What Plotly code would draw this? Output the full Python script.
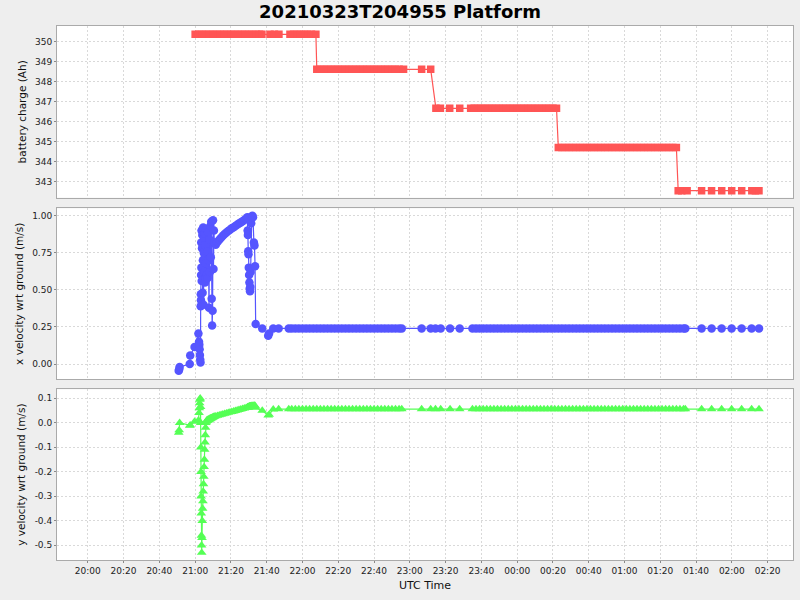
import plotly.graph_objects as go
from plotly.subplots import make_subplots

TITLE = "20210323T204955 Platform"
X_TITLE = "UTC Time"
Y1_TITLE = "battery charge (Ah)"
Y2_TITLE = "x velocity wrt ground (m/s)"
Y3_TITLE = "y velocity wrt ground (m/s)"

# ---------------- battery charge (Ah), by time of day (UTC) ----------------
batt_l1_time = ["21:00", "21:02", "21:04", "21:06", "21:08", "21:10", "21:12", "21:14",
                "21:16", "21:18", "21:20", "21:22", "21:24", "21:26", "21:28", "21:30",
                "21:32", "21:34", "21:36", "21:37:20", "21:41:50", "21:44:20", "21:46:50", "21:53",
                "21:55", "21:57", "21:59", "22:01", "22:03", "22:05", "22:07:30"]
batt_l1_ah = [350.37, 350.37, 350.37, 350.37, 350.37, 350.37, 350.37, 350.37,
              350.37, 350.37, 350.37, 350.37, 350.37, 350.37, 350.37, 350.37,
              350.37, 350.37, 350.37, 350.37, 350.37, 350.37, 350.37, 350.37,
              350.37, 350.37, 350.37, 350.37, 350.37, 350.37, 350.37]

batt_l2_time = ["22:08", "22:10", "22:12", "22:14", "22:16", "22:18", "22:20", "22:22",
                "22:24", "22:26", "22:28", "22:30", "22:32", "22:34", "22:36", "22:38",
                "22:40", "22:42", "22:44", "22:46", "22:48", "22:50", "22:52", "22:54",
                "22:56:30", "23:06:36", "23:11:40"]
batt_l2_ah = [348.62, 348.62, 348.62, 348.62, 348.62, 348.62, 348.62, 348.62,
              348.62, 348.62, 348.62, 348.62, 348.62, 348.62, 348.62, 348.62,
              348.62, 348.62, 348.62, 348.62, 348.62, 348.62, 348.62, 348.62,
              348.62, 348.62, 348.62]

batt_l3_time = ["23:14:35", "23:17:05", "23:22:18", "23:27:54", "23:34", "23:36", "23:38", "23:40",
                "23:42", "23:44", "23:46", "23:48", "23:50", "23:52", "23:54", "23:56",
                "23:58", "00:00", "00:02", "00:04", "00:06", "00:08", "00:10", "00:12",
                "00:14", "00:16", "00:18", "00:20", "00:22"]
batt_l3_ah = [346.67, 346.67, 346.67, 346.67, 346.67, 346.67, 346.67, 346.67,
              346.67, 346.67, 346.67, 346.67, 346.67, 346.67, 346.67, 346.67,
              346.67, 346.67, 346.67, 346.67, 346.67, 346.67, 346.67, 346.67,
              346.67, 346.67, 346.67, 346.67, 346.67]

batt_l4_time = ["00:23", "00:25", "00:27", "00:29", "00:31", "00:33", "00:35", "00:37",
                "00:39", "00:41", "00:43", "00:45", "00:47", "00:49", "00:51", "00:53",
                "00:55", "00:57", "00:59", "01:01", "01:03", "01:05", "01:07", "01:09",
                "01:11", "01:13", "01:15", "01:17", "01:19", "01:21", "01:23", "01:25",
                "01:27", "01:29"]
batt_l4_ah = [344.71, 344.71, 344.71, 344.71, 344.71, 344.71, 344.71, 344.71,
              344.71, 344.71, 344.71, 344.71, 344.71, 344.71, 344.71, 344.71,
              344.71, 344.71, 344.71, 344.71, 344.71, 344.71, 344.71, 344.71,
              344.71, 344.71, 344.71, 344.71, 344.71, 344.71, 344.71, 344.71,
              344.71, 344.71]

batt_l5_time = ["01:30", "01:32", "01:35", "01:43:05", "01:48:40", "01:54:20", "01:59:55",
                "02:05:30", "02:11:10", "02:13:10", "02:15:10"]
batt_l5_ah = [342.55, 342.55, 342.55, 342.55, 342.55, 342.55, 342.55,
              342.55, 342.55, 342.55, 342.55]

# ---------------- velocities wrt ground (m/s) ----------------
drift_time = ["20:50:50", "20:51:05", "20:51:20", "20:57:00", "20:57:15", "20:59:40", "21:01:50"]
drift_x = [-0.045, -0.035, -0.020, 0.000, 0.058, 0.115, 0.205]
drift_y = [-0.040, -0.030, 0.000, -0.012, -0.010, 0.005, 0.010]

spin_time = ["21:02:10", "21:02:20", "21:02:30", "21:02:40", "21:02:50", "21:03:00", "21:03:05",
             "21:03:10", "21:03:15", "21:03:20", "21:03:25", "21:03:30", "21:03:35", "21:03:40",
             "21:03:50", "21:04:00", "21:04:10", "21:04:20", "21:04:30", "21:04:40", "21:04:50",
             "21:05:00", "21:05:10", "21:05:20", "21:05:30", "21:05:40", "21:05:50", "21:06:00",
             "21:06:15", "21:06:30", "21:06:45", "21:07:00", "21:07:15", "21:07:30", "21:07:45",
             "21:08:00", "21:08:15", "21:08:30", "21:08:45", "21:09:00", "21:09:15", "21:09:30",
             "21:09:45", "21:10:00", "21:10:15", "21:10:30", "21:10:45"]
spin_x = [0.150, 0.130, 0.100, 0.060, 0.030, 0.010, 0.390,
          0.470, 0.430, 0.600, 0.820, 0.650, 0.900, 0.560,
          0.780, 0.870, 0.480, 0.700, 0.920, 0.400, 0.750,
          0.850, 0.620, 0.880, 0.550, 0.800, 0.580, 0.680,
          0.910, 0.600, 0.760, 0.580, 0.890, 0.700, 0.380,
          0.840, 0.620, 0.930, 0.720, 0.960, 0.440, 0.260,
          0.360, 0.970, 0.640, 0.900, 0.820]
spin_y = [0.040, 0.060, 0.080, 0.095, 0.100, 0.065, 0.000,
          -0.100, -0.200, -0.300, -0.370, -0.460, -0.500, -0.530,
          -0.470, -0.400, -0.350, -0.320, -0.280, -0.250, -0.220,
          -0.180, -0.150, -0.110, -0.080, -0.050, -0.020, 0.000,
          0.005, 0.010, 0.008, 0.012, 0.010, 0.014, 0.012,
          0.016, 0.015, 0.018, 0.017, 0.020, 0.019, 0.021,
          0.022, 0.023, 0.024, 0.025, 0.026]

ramp_time = ["21:11:30", "21:12:30", "21:13:30", "21:14:30", "21:15:30", "21:16:30",
             "21:17:30", "21:18:30", "21:19:30", "21:20:30", "21:21:30", "21:22:30",
             "21:23:30", "21:24:30", "21:25:30", "21:26:30", "21:27:30", "21:28:30"]
ramp_x = [0.805, 0.822, 0.838, 0.852, 0.865, 0.876,
          0.887, 0.897, 0.906, 0.915, 0.923, 0.931,
          0.939, 0.947, 0.955, 0.963, 0.971, 0.979]
ramp_y = [0.027, 0.029, 0.031, 0.033, 0.035, 0.037,
          0.039, 0.041, 0.043, 0.045, 0.047, 0.049,
          0.051, 0.053, 0.055, 0.057, 0.059, 0.061]

turn_time = ["21:29:10", "21:29:20", "21:29:30", "21:29:40", "21:29:50",
             "21:30:00", "21:30:10", "21:30:20", "21:30:30", "21:30:40",
             "21:30:50", "21:31:00", "21:31:20", "21:31:40", "21:32:00",
             "21:32:20", "21:32:50", "21:33:10", "21:33:30", "21:33:50"]
turn_x = [0.990, 0.900, 0.870, 0.760, 0.740,
          0.650, 0.600, 0.550, 0.510, 0.490,
          0.520, 0.620, 0.950, 0.995, 1.000,
          0.990, 0.820, 0.800, 0.660, 0.270]
turn_y = [0.062, 0.063, 0.064, 0.063, 0.065,
          0.064, 0.066, 0.065, 0.067, 0.066,
          0.068, 0.067, 0.068, 0.069, 0.068,
          0.070, 0.069, 0.070, 0.069, 0.062]

settle_time = ["21:37:30", "21:40:50", "21:41:20", "21:43:40", "21:46:40", "21:52:20"]
settle_x = [0.240, 0.190, 0.205, 0.240, 0.240, 0.240]
settle_y = [0.050, 0.030, 0.033, 0.055, 0.056, 0.056]

cruise1_time = ["21:54", "21:56", "21:58", "22:00", "22:02", "22:04", "22:06", "22:08",
                "22:10", "22:12", "22:14", "22:16", "22:18", "22:20", "22:22", "22:24",
                "22:26", "22:28", "22:30", "22:32", "22:34", "22:36", "22:38", "22:40",
                "22:42", "22:44", "22:46", "22:48", "22:50", "22:52", "22:54", "22:55:30"]
cruise1_x = [0.24, 0.24, 0.24, 0.24, 0.24, 0.24, 0.24, 0.24,
             0.24, 0.24, 0.24, 0.24, 0.24, 0.24, 0.24, 0.24,
             0.24, 0.24, 0.24, 0.24, 0.24, 0.24, 0.24, 0.24,
             0.24, 0.24, 0.24, 0.24, 0.24, 0.24, 0.24, 0.24]
cruise1_y = [0.056, 0.056, 0.056, 0.056, 0.056, 0.056, 0.056, 0.056,
             0.056, 0.056, 0.056, 0.056, 0.056, 0.056, 0.056, 0.056,
             0.056, 0.056, 0.056, 0.056, 0.056, 0.056, 0.056, 0.056,
             0.056, 0.056, 0.056, 0.056, 0.056, 0.056, 0.056, 0.056]

gap_time = ["23:06:36", "23:11:40", "23:14:20", "23:17:15", "23:22:30", "23:27:52"]
gap_x = [0.24, 0.24, 0.24, 0.24, 0.24, 0.24]
gap_y = [0.056, 0.056, 0.056, 0.056, 0.056, 0.056]

cruise2_time = ["23:35", "23:37", "23:39", "23:41", "23:43", "23:45", "23:47", "23:49",
                "23:51", "23:53", "23:55", "23:57", "23:59", "00:01", "00:03", "00:05",
                "00:07", "00:09", "00:11", "00:13", "00:15", "00:17", "00:19", "00:21",
                "00:23", "00:25", "00:27", "00:29", "00:31", "00:33", "00:35", "00:37",
                "00:39", "00:41", "00:43", "00:45", "00:47", "00:49", "00:51", "00:53",
                "00:55", "00:57", "00:59", "01:01", "01:03", "01:05", "01:07", "01:09",
                "01:11", "01:13", "01:15", "01:17", "01:19", "01:21", "01:23", "01:25",
                "01:27", "01:29", "01:31", "01:33", "01:34"]
cruise2_x = [0.24, 0.24, 0.24, 0.24, 0.24, 0.24, 0.24, 0.24,
             0.24, 0.24, 0.24, 0.24, 0.24, 0.24, 0.24, 0.24,
             0.24, 0.24, 0.24, 0.24, 0.24, 0.24, 0.24, 0.24,
             0.24, 0.24, 0.24, 0.24, 0.24, 0.24, 0.24, 0.24,
             0.24, 0.24, 0.24, 0.24, 0.24, 0.24, 0.24, 0.24,
             0.24, 0.24, 0.24, 0.24, 0.24, 0.24, 0.24, 0.24,
             0.24, 0.24, 0.24, 0.24, 0.24, 0.24, 0.24, 0.24,
             0.24, 0.24, 0.24, 0.24, 0.24]
cruise2_y = [0.056, 0.056, 0.056, 0.056, 0.056, 0.056, 0.056, 0.056,
             0.056, 0.056, 0.056, 0.056, 0.056, 0.056, 0.056, 0.056,
             0.056, 0.056, 0.056, 0.056, 0.056, 0.056, 0.056, 0.056,
             0.056, 0.056, 0.056, 0.056, 0.056, 0.056, 0.056, 0.056,
             0.056, 0.056, 0.056, 0.056, 0.056, 0.056, 0.056, 0.056,
             0.056, 0.056, 0.056, 0.056, 0.056, 0.056, 0.056, 0.056,
             0.056, 0.056, 0.056, 0.056, 0.056, 0.056, 0.056, 0.056,
             0.056, 0.056, 0.056, 0.056, 0.056]

tail_time = ["01:43:06", "01:48:42", "01:54:17", "01:59:53", "02:05:28", "02:11:03", "02:15:11"]
tail_x = [0.24, 0.24, 0.24, 0.24, 0.24, 0.24, 0.24]
tail_y = [0.056, 0.056, 0.056, 0.056, 0.056, 0.056, 0.056]

# ---------------- tick labels ----------------
y1_ticks = [343, 344, 345, 346, 347, 348, 349, 350]
y1_labels = ["343", "344", "345", "346", "347", "348", "349", "350"]
y2_ticks = [0.0, 0.25, 0.5, 0.75, 1.0]
y2_labels = ["0.00", "0.25", "0.50", "0.75", "1.00"]
y3_ticks = [-0.5, -0.4, -0.3, -0.2, -0.1, 0.0, 0.1]
y3_labels = ["-0.5", "-0.4", "-0.3", "-0.2", "-0.1", "0.0", "0.1"]


def stamp(times):
    """Time-of-day strings -> full timestamps (evening of 23 Mar, early 24 Mar)."""
    out = []
    for t in times:
        if t.count(":") == 1:
            t = t + ":00"
        day = "2021-03-23" if int(t.split(":")[0]) >= 12 else "2021-03-24"
        out.append(day + " " + t)
    return out


batt_t = stamp(batt_l1_time + batt_l2_time + batt_l3_time + batt_l4_time + batt_l5_time)
batt_v = batt_l1_ah + batt_l2_ah + batt_l3_ah + batt_l4_ah + batt_l5_ah

vel_t = stamp(drift_time + spin_time + ramp_time + turn_time + settle_time
              + cruise1_time + gap_time + cruise2_time + tail_time)
vel_x = (drift_x + spin_x + ramp_x + turn_x + settle_x
         + cruise1_x + gap_x + cruise2_x + tail_x)
vel_y = (drift_y + spin_y + ramp_y + turn_y + settle_y
         + cruise1_y + gap_y + cruise2_y + tail_y)

RED, BLUE, GREEN = "#FF5555", "#5555FF", "#55FF55"
FONT = "DejaVu Sans"
GRID = "#d9d9d9"
BORDER = "#aaaaaa"
PAPER = "#eeeeee"

fig = make_subplots(rows=3, cols=1, shared_xaxes=True, vertical_spacing=0.02)

fig.add_trace(go.Scatter(x=batt_t, y=batt_v, mode="lines+markers",
                         line=dict(color=RED, width=1.2),
                         marker=dict(symbol="square", size=7.5, color=RED, line=dict(width=0)),
                         showlegend=False), row=1, col=1)
fig.add_trace(go.Scatter(x=vel_t, y=vel_x, mode="lines+markers",
                         line=dict(color=BLUE, width=1.2),
                         marker=dict(symbol="circle", size=8.5, color=BLUE, line=dict(width=0)),
                         showlegend=False), row=2, col=1)
fig.add_trace(go.Scatter(x=vel_t, y=vel_y, mode="lines+markers",
                         line=dict(color=GREEN, width=1.2),
                         marker=dict(symbol="triangle-up", size=8.5, color=GREEN, line=dict(width=0)),
                         showlegend=False), row=3, col=1)

x_common = dict(range=["2021-03-23 19:42:47", "2021-03-24 02:34:11"],
                tick0="2021-03-23 20:00:00", dtick=20 * 60 * 1000, tickformat="%H:%M",
                showgrid=True, gridcolor=GRID, griddash="2px,2px", gridwidth=1,
                showline=True, mirror=True, linecolor=BORDER, linewidth=1,
                zeroline=False, automargin=False,
                tickfont=dict(family=FONT, size=9, color="#222222"))
for r in (1, 2):
    fig.update_xaxes(row=r, col=1, ticks="", showticklabels=False, **x_common)
fig.update_xaxes(row=3, col=1, ticks="outside", ticklen=2, tickcolor="#888888",
                 showticklabels=True,
                 title=dict(text=X_TITLE, font=dict(family=FONT, size=11, color="#111111"),
                            standoff=6),
                 **x_common)

y_common = dict(showgrid=True, gridcolor=GRID, griddash="2px,2px", gridwidth=1,
                showline=True, mirror=True, linecolor=BORDER, linewidth=1,
                zeroline=False, ticks="outside", ticklen=2, tickcolor="#888888",
                automargin=False,
                tickfont=dict(family=FONT, size=9, color="#222222"))
title_font = dict(family=FONT, size=10.5, color="#111111")

fig.update_yaxes(row=1, col=1, domain=[0.6785, 1.0], range=[342.2, 350.785],
                 tickmode="array", tickvals=y1_ticks, ticktext=y1_labels,
                 title=dict(text=Y1_TITLE, font=title_font, standoff=6), **y_common)
fig.update_yaxes(row=2, col=1, domain=[0.3384, 0.6586], range=[-0.103, 1.05],
                 tickmode="array", tickvals=y2_ticks, ticktext=y2_labels,
                 title=dict(text=Y2_TITLE, font=title_font, standoff=6), **y_common)
fig.update_yaxes(row=3, col=1, domain=[0.0, 0.3197], range=[-0.56, 0.1367],
                 tickmode="array", tickvals=y3_ticks, ticktext=y3_labels,
                 title=dict(text=Y3_TITLE, font=title_font, standoff=6), **y_common)

fig.update_layout(
    width=800, height=600, autosize=False,
    margin=dict(l=57, r=7, t=26, b=40),
    paper_bgcolor=PAPER, plot_bgcolor="#ffffff",
    font=dict(family=FONT, color="#111111"),
    title=dict(text=TITLE, x=0.5, xref="container", xanchor="center",
               y=0.9805, yref="container", yanchor="middle",
               font=dict(family=FONT, size=18, color="#000000", weight="bold")),
    hovermode=False,
    showlegend=False,
)

page_js = ("document.body.style.margin='0';"
           "document.body.style.overflow='hidden';"
           "document.body.style.background='" + PAPER + "';")
fig.write_html("out.html", config={"displayModeBar": False}, post_script=page_js)
